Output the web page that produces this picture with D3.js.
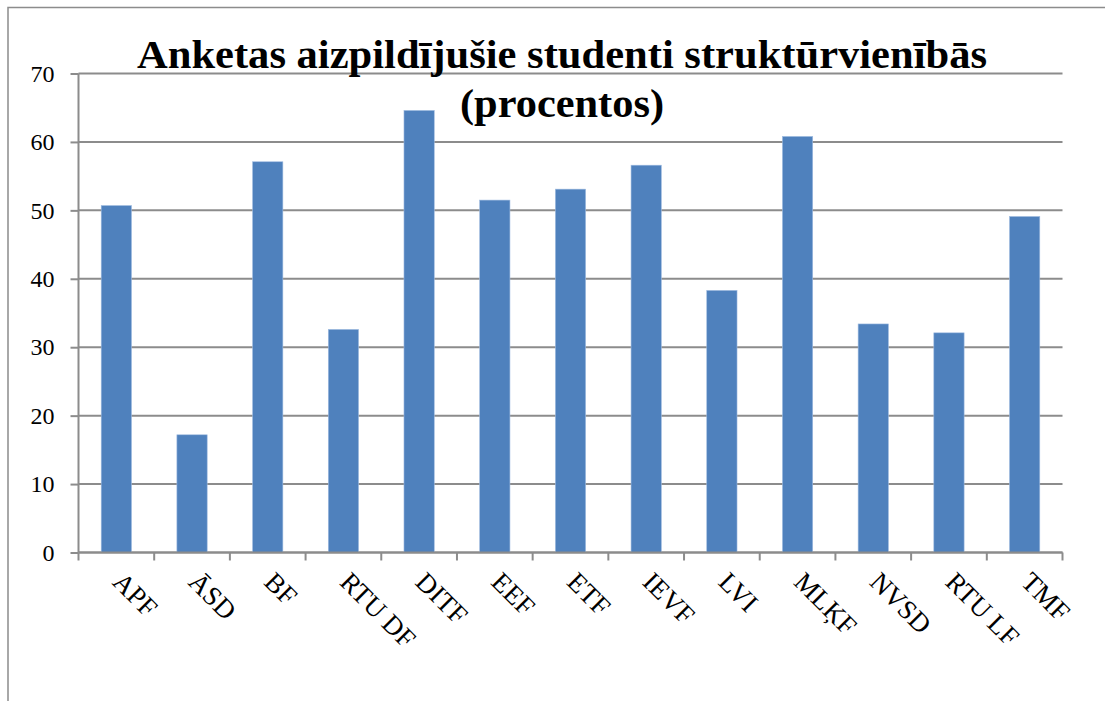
<!DOCTYPE html>
<html>
<head>
<meta charset="utf-8">
<script src="https://cdn.jsdelivr.net/npm/d3@7"></script>
<style>
  body { margin: 0; background: #fff; }
  svg text { font-family: "Liberation Serif", "Times New Roman", serif; }
</style>
</head>
<body>
<div class="chart"></div>
<script>
// categories (struktūrvienības) and the share of students who filled in the survey
const units = ["APF", "ĀSD", "BF", "RTU DF", "DITF", "EEF", "ETF", "IEVF", "LVI", "MLĶF", "NVSD", "RTU LF", "TMF"];
const percents = [50.7, 17.2, 57.1, 32.6, 64.6, 51.5, 53.1, 56.6, 38.3, 60.8, 33.4, 32.1, 49.1];
const yTicks = [0, 10, 20, 30, 40, 50, 60, 70];
const titleLines = ["Anketas aizpildījušie studenti struktūrvienībās", "(procentos)"];

const width = 1105;
const height = 701;
const margin = {top: 73.5, bottom: 148.5, left: 78.5, right: 42.5};
const serif = "'Liberation Serif', 'Times New Roman', serif";

const svg = d3.select(".chart")
  .append("svg")
  .attr("width", width)
  .attr("height", height);

// outer frame (only top and left edges are visible)
svg.append("path")
  .attr("d", `M8,${height} V7.5 H${width}`)
  .attr("fill", "none")
  .attr("stroke", "#8c8c8c")
  .attr("stroke-width", 1.5);

const x = d3.scaleBand()
  .domain(units)
  .range([margin.left, width - margin.right])
  .paddingInner(0.6)
  .paddingOuter(0.3);

const y = d3.scaleLinear()
  .domain([0, 70])
  .range([height - margin.bottom, margin.top]);

// horizontal gridlines
svg.append("g")
  .selectAll("line")
  .data(yTicks)
  .join("line")
  .attr("x1", margin.left)
  .attr("x2", width - margin.right)
  .attr("y1", d => y(d))
  .attr("y2", d => y(d))
  .attr("stroke", "#8c8c8c")
  .attr("stroke-width", 2);

// bars
svg.append("g")
  .attr("fill", "#4f81bd")
  .selectAll("rect")
  .data(percents)
  .join("rect")
  .attr("x", (d, i) => x(units[i]))
  .attr("y", d => y(d))
  .attr("width", x.bandwidth())
  .attr("height", d => y(0) - y(d))
  .attr("stroke", "#9fbbe0")
  .attr("stroke-width", 0.6);

// y axis
const yAxis = svg.append("g")
  .attr("transform", `translate(${margin.left},0)`)
  .call(d3.axisLeft(y).tickValues(yTicks).tickSize(8).tickPadding(16));
yAxis.selectAll("line, path").attr("stroke", "#8c8c8c").attr("stroke-width", 2);
yAxis.select(".domain").attr("d", `M0,${y(70)}V${y(0)}`);
yAxis.selectAll("text")
  .attr("fill", "#000")
  .style("font-size", "24px")
  .style("font-family", serif);

// x axis: ticks on category boundaries
const boundaries = d3.range(units.length + 1).map(i => margin.left + i * x.step());
svg.append("line")
  .attr("x1", margin.left).attr("x2", width - margin.right)
  .attr("y1", y(0)).attr("y2", y(0))
  .attr("stroke", "#8c8c8c").attr("stroke-width", 2);
svg.append("g")
  .selectAll("line")
  .data(boundaries)
  .join("line")
  .attr("x1", d => d).attr("x2", d => d)
  .attr("y1", y(0)).attr("y2", y(0) + 8)
  .attr("stroke", "#8c8c8c")
  .attr("stroke-width", 2);

// rotated category labels
svg.append("g")
  .selectAll("text")
  .data(units)
  .join("text")
  .attr("transform", d => `translate(${x(d) + x.bandwidth() / 2 - 5},${y(0) + 31}) rotate(45)`)
  .attr("text-anchor", "start")
  .style("font-family", serif)
  .style("font-size", "27px")
  .text(d => d);

// title
const titleWidths = [850, 204];
svg.append("g")
  .selectAll("text")
  .data(titleLines)
  .join("text")
  .attr("x", 562)
  .attr("y", (d, i) => 68 + i * 49)
  .attr("text-anchor", "middle")
  .attr("textLength", (d, i) => titleWidths[i])
  .attr("lengthAdjust", "spacingAndGlyphs")
  .style("font-family", serif)
  .style("font-size", "39px")
  .style("font-weight", "bold")
  .text(d => d);
</script>
</body>
</html>
